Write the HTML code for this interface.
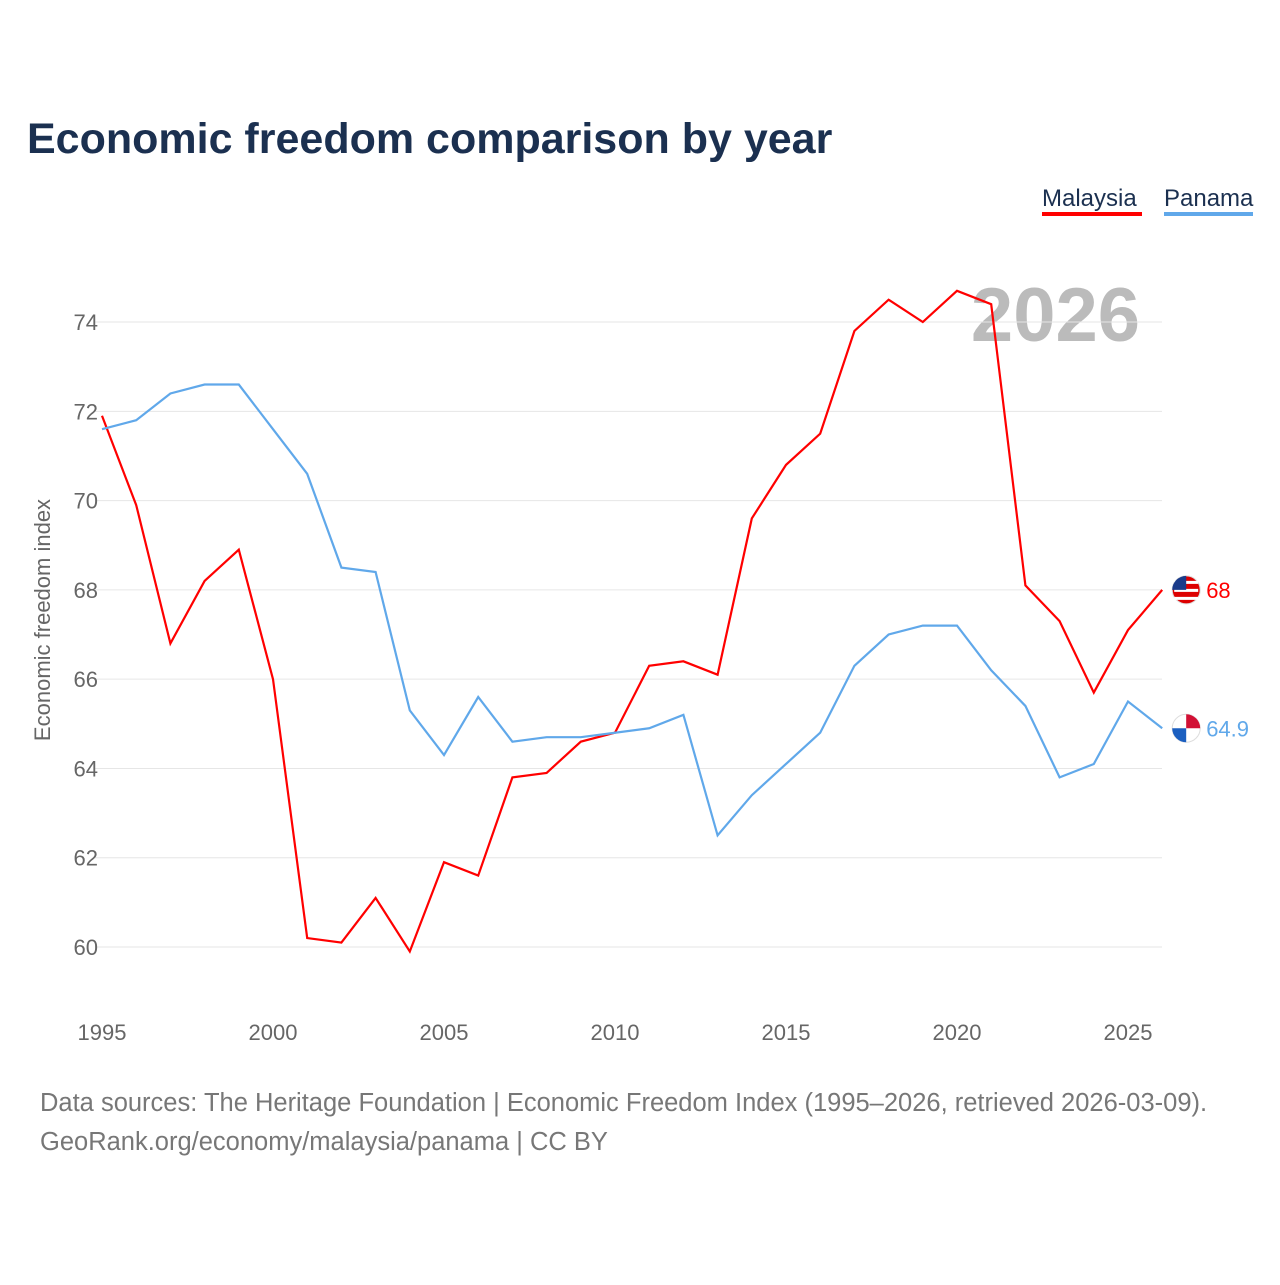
<!DOCTYPE html>
<html><head><meta charset="utf-8"><style>
body{margin:0;background:#fff;width:1280px;height:1280px;overflow:hidden;font-family:"Liberation Sans",sans-serif}
</style></head><body>
<svg width="1280" height="1280" id="chart">
<text x="27" y="153" font-size="43" font-weight="bold" fill="#1b3050">Economic freedom comparison by year</text>
<g><text x="1042" y="206" font-size="24" fill="#1b3050">Malaysia</text><rect x="1042" y="212" width="100" height="4" fill="#f00"/></g>
<g><text x="1164" y="206" font-size="24" fill="#1b3050">Panama</text><rect x="1164" y="212" width="89" height="4" fill="#60a8ea"/></g>
<text x="1140" y="341" font-size="76" font-weight="bold" fill="#bbb" text-anchor="end">2026</text>
<text transform="translate(50,620) rotate(-90)" font-size="22" fill="#666" text-anchor="middle">Economic freedom index</text>
<g id="grid"></g><g id="xt"></g><g id="lines"></g>
<text x="40" y="1111" font-size="25.5" fill="#777">Data sources: The Heritage Foundation | Economic Freedom Index (1995–2026, retrieved 2026-03-09).</text>
<text x="40" y="1150" font-size="25.5" fill="#777">GeoRank.org/economy/malaysia/panama | CC BY</text>
</svg>
<script>
const years=[1995,1996,1997,1998,1999,2000,2001,2002,2003,2004,2005,2006,2007,2008,2009,2010,2011,2012,2013,2014,2015,2016,2017,2018,2019,2020,2021,2022,2023,2024,2025,2026];
const malaysia=[71.9,69.9,66.8,68.2,68.9,66.0,60.2,60.1,61.1,59.9,61.9,61.6,63.8,63.9,64.6,64.8,66.3,66.4,66.1,69.6,70.8,71.5,73.8,74.5,74.0,74.7,74.4,68.1,67.3,65.7,67.1,68.0];
const panama=[71.6,71.8,72.4,72.6,72.6,71.6,70.6,68.5,68.4,65.3,64.3,65.6,64.6,64.7,64.7,64.8,64.9,65.2,62.5,63.4,64.1,64.8,66.3,67.0,67.2,67.2,66.2,65.4,63.8,64.1,65.5,64.9];
const yTicks=[60,62,64,66,68,70,72,74];
const xTicks=[1995,2000,2005,2010,2015,2020,2025];
const X=y=>102+(y-1995)*34.2, Y=v=>947-(v-60)*44.64;
const NS='http://www.w3.org/2000/svg';
function mk(t,a,p){const e=document.createElementNS(NS,t);for(const k in a)e.setAttribute(k,a[k]);p.appendChild(e);return e;}
const g=document.getElementById('grid');
yTicks.forEach(v=>{
 const l=mk('line',{x1:95,x2:1162,y1:Y(v),y2:Y(v),stroke:'#e6e6e6'},g);
 
 
 const t=mk('text',{x:98,y:Y(v)+8,'font-size':22,fill:'#666','text-anchor':'end'},g);t.textContent=v;
 
 
});
const xt=document.getElementById('xt');
xTicks.forEach(v=>{
 const t=mk('text',{x:X(v),y:1040,'font-size':22,fill:'#666','text-anchor':'middle'},xt);t.textContent=v;
 
 
});
const lg=document.getElementById('lines');
[[malaysia,'#f00','malaysia'],[panama,'#60a8ea','panama']].forEach(([d,c,n])=>{
 const p=mk('polyline',{points:d.map((v,i)=>X(years[i])+','+Y(v)).join(' '),fill:'none',stroke:c,'stroke-width':2.2},lg);
 
 
 const last=d[d.length-1],lx=X(years[years.length-1])+24,ly=Y(last);
 const f=mk('circle',{cx:lx,cy:ly,r:14,fill:n=='malaysia'?'#d00':'#fff',stroke:'#ddd'},lg);
 
 
 if(n=='panama'){mk('path',{d:`M${lx} ${ly} h-14 a14 14 0 0 0 14 14z`,fill:'#1b5fc0'},lg);mk('path',{d:`M${lx} ${ly} h14 a14 14 0 0 0 -14 -14z`,fill:'#d21034'},lg);}
 else{for(let k=-1;k<=1;k++)mk('rect',{x:lx-12,y:ly+k*8-1,width:24,height:3,fill:'#fff'},lg);mk('path',{d:`M${lx} ${ly} h-14 a14 14 0 0 1 14 -14z`,fill:'#1a3b8a'},lg);}
 const t=mk('text',{x:lx+20,y:ly+8,'font-size':22,fill:c},lg);t.textContent=last;
 
 
});
</script>
</body></html>
